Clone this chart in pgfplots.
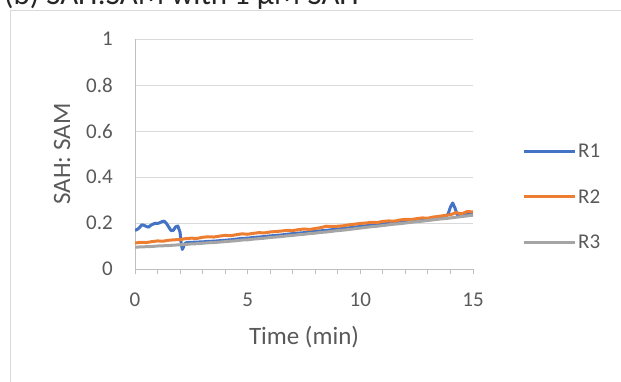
\documentclass[border=0pt]{standalone}
\usepackage{fontspec}
\setmainfont{Carlito}
\usepackage{pgfplots}
\pgfplotsset{compat=1.18}
\definecolor{cBlue}{HTML}{4472C4}
\definecolor{cOrange}{HTML}{ED7D31}
\definecolor{cGray}{HTML}{A5A5A5}
\definecolor{txt}{HTML}{595959}
\definecolor{axl}{HTML}{BFBFBF}
\definecolor{grd}{HTML}{D9D9D9}
\begin{document}
\begin{tikzpicture}
\draw[grd, line width=1pt] (10pt,-20pt) rectangle (650pt,370pt);
\node[anchor=base west, inner sep=0pt, text=black!85, font=\fontsize{31}{31}\selectfont] at (4pt,376.5pt) {(b) SAH:SAM with 1 μM SAH};
\begin{axis}[
  at={(135pt,112pt)}, anchor=south west, scale only axis,
  width=338pt, height=230pt,
  xmin=0, xmax=15, ymin=0, ymax=1,
  xtick={0,5,10,15}, minor xtick={1,2,3,4,6,7,8,9,11,12,13,14},
  ytick={0,0.2,0.4,0.6,0.8,1},
  axis x line=bottom, axis y line=left,
  axis line style={draw=axl, line width=1pt, -},
  ymajorgrids, grid style={draw=grd, line width=1pt},
  xtick style={draw=axl, line width=1pt},
  minor tick style={draw=axl, line width=1pt},
  ytick style={draw=none},
  major tick length=5pt, minor tick length=5pt, tick align=outside,
  /pgf/number format/assume math mode=true,
  ticklabel style={font=\fontsize{21}{21}\selectfont, text=txt},
  xticklabel style={anchor=base, yshift=-32pt},
  yticklabel style={anchor=east, inner sep=0pt, xshift=-17pt},
  xlabel={Time (min)}, ylabel={SAH: SAM},
  label style={font=\fontsize{25}{25}\selectfont, text=txt},
  xlabel style={at={(axis description cs:0.5,-0.3304)}, anchor=base},
  ylabel style={at={(axis description cs:-0.1923,0.5)}, anchor=base, rotate=0},
  legend style={at={(1.145,0.313)}, anchor=west, draw=none, fill=none, inner sep=0pt,
    font=\fontsize{21}{21}\selectfont, text=txt, row sep=26pt,
    nodes={inner sep=2pt}},
  legend cell align=left,
  legend image code/.code={\draw[#1] (0pt,0pt) -- (51pt,0pt);},
  every axis plot/.append style={line width=3pt, line join=round, mark=none},
]
\addplot[cBlue] coordinates {
(0,0.168)(0.1,0.172)(0.2,0.18)(0.3,0.192)(0.4,0.19)(0.5,0.185)(0.6,0.182)(0.7,0.19)(0.8,0.195)(0.9,0.199)(1.0,0.198)(1.1,0.201)(1.2,0.206)(1.3,0.208)(1.4,0.198)(1.5,0.182)(1.6,0.167)(1.7,0.168)(1.8,0.183)(1.9,0.187)(2.0,0.16)(2.05,0.11)(2.1,0.085)(2.15,0.095)(2.2,0.11)(2.3,0.115)(2.5,0.116)(2.75,0.117)(3,0.118)(3.25,0.12)(3.5,0.121)(3.75,0.123)(4,0.125)(4.25,0.127)(4.5,0.13)(4.75,0.133)(5,0.134)(5.25,0.137)(5.5,0.139)(5.75,0.141)(6,0.144)(6.25,0.146)(6.5,0.148)(6.75,0.151)(7,0.154)(7.25,0.156)(7.5,0.158)(7.75,0.161)(8,0.164)(8.25,0.166)(8.5,0.168)(8.75,0.171)(9,0.174)(9.25,0.176)(9.5,0.179)(9.75,0.182)(10,0.185)(10.25,0.188)(10.5,0.19)(10.75,0.193)(11,0.196)(11.25,0.198)(11.5,0.201)(11.75,0.204)(12,0.207)(12.25,0.209)(12.5,0.212)(12.75,0.215)(13,0.217)(13.25,0.22)(13.5,0.222)(13.75,0.226)(13.9,0.24)(14.0,0.27)(14.1,0.287)(14.2,0.265)(14.3,0.236)(14.5,0.233)(14.75,0.237)(15,0.24)
};
\addlegendentry{R1}
\addplot[cOrange] coordinates {
(0,0.113)(0.25,0.116)(0.5,0.115)(0.75,0.119)(1,0.122)(1.25,0.121)(1.5,0.125)(1.75,0.127)(2,0.128)(2.25,0.132)(2.5,0.134)(2.75,0.133)(3,0.138)(3.25,0.14)(3.5,0.139)(3.75,0.143)(4,0.146)(4.25,0.145)(4.5,0.149)(4.75,0.153)(5,0.151)(5.25,0.155)(5.5,0.158)(5.75,0.157)(6,0.161)(6.25,0.163)(6.5,0.165)(6.75,0.168)(7,0.167)(7.25,0.171)(7.5,0.174)(7.75,0.172)(8,0.176)(8.25,0.18)(8.5,0.186)(8.75,0.185)(9,0.186)(9.25,0.188)(9.5,0.192)(9.75,0.195)(10,0.198)(10.25,0.2)(10.5,0.203)(10.75,0.202)(11,0.207)(11.25,0.209)(11.5,0.208)(11.75,0.213)(12,0.216)(12.25,0.215)(12.5,0.219)(12.75,0.222)(13,0.221)(13.25,0.226)(13.5,0.229)(13.75,0.233)(14,0.236)(14.25,0.245)(14.5,0.24)(14.75,0.25)(15,0.248)
};
\addlegendentry{R2}
\addplot[cGray] coordinates {
(0,0.095)(0.25,0.096)(0.5,0.097)(0.75,0.098)(1,0.1)(1.25,0.101)(1.5,0.102)(1.75,0.104)(2,0.105)(2.25,0.107)(2.5,0.109)(2.75,0.11)(3,0.112)(3.25,0.114)(3.5,0.115)(3.75,0.117)(4,0.119)(4.25,0.121)(4.5,0.123)(4.75,0.126)(5,0.127)(5.25,0.13)(5.5,0.132)(5.75,0.134)(6,0.137)(6.25,0.139)(6.5,0.141)(6.75,0.144)(7,0.146)(7.25,0.149)(7.5,0.151)(7.75,0.154)(8,0.156)(8.25,0.159)(8.5,0.161)(8.75,0.164)(9,0.167)(9.25,0.169)(9.5,0.172)(9.75,0.175)(10,0.178)(10.25,0.181)(10.5,0.184)(10.75,0.186)(11,0.189)(11.25,0.192)(11.5,0.195)(11.75,0.197)(12,0.2)(12.25,0.203)(12.5,0.206)(12.75,0.208)(13,0.211)(13.25,0.214)(13.5,0.217)(13.75,0.219)(14,0.222)(14.25,0.225)(14.5,0.228)(14.75,0.231)(15,0.234)
};
\addlegendentry{R3}
\end{axis}
\pgfresetboundingbox
\path[use as bounding box] (0pt,0pt) rectangle (621pt,381pt);
\end{tikzpicture}
\end{document}
